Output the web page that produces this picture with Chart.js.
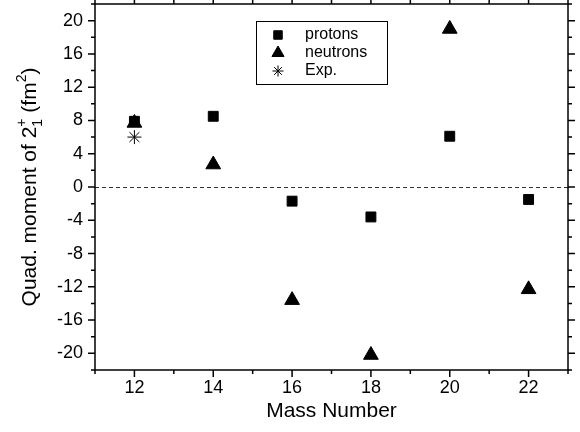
<!DOCTYPE html>
<html>
<head>
<meta charset="utf-8">
<script src="https://cdn.jsdelivr.net/npm/chart.js@4"></script>
<style>
html, body { margin: 0; padding: 0; background: #fff; }
#wrap { width: 580px; height: 432px; }
</style>
</head>
<body>
<div id="wrap"><canvas id="quad"></canvas></div>
<script>
// data
var massNumbers = [12, 14, 16, 18, 20, 22];
var protons = [7.9, 8.5, -1.7, -3.6, 6.1, -1.5];
var neutrons = [7.7, 2.7, -13.6, -20.2, 19.0, -12.3];
var expMass = [12];
var expValues = [6.0];

var legendItems = [
    {label: 'protons', style: 'rect', radius: 6},
    {label: 'neutrons', style: 'triangle', radius: 7},
    {label: 'Exp.', style: 'star', radius: 5.5}
];

var FONT = '"Liberation Sans", Arial, Helvetica, sans-serif';

const toPoints = (xs, ys) => {
    let pts = [];
    for (let i = 0; i < xs.length; i++) pts.push({x: xs[i], y: ys[i]});
    return pts;
};

// frame, outward ticks on all four sides, dashed zero line, y title, legend box
const decorations = {
    id: 'decorations',
    beforeDatasetsDraw(chart) {
        const ctx = chart.ctx, a = chart.chartArea, y = chart.scales.y;
        let y0 = Math.round(y.getPixelForValue(0)) + 0.5;
        ctx.save();
        ctx.strokeStyle = '#333';
        ctx.lineWidth = 1;
        ctx.setLineDash([4, 3]);
        ctx.beginPath();
        ctx.moveTo(a.left, y0);
        ctx.lineTo(a.right, y0);
        ctx.stroke();
        ctx.restore();
    },
    afterDraw(chart) {
        const ctx = chart.ctx, a = chart.chartArea;
        const xs = chart.scales.x, ys = chart.scales.y;
        ctx.save();
        ctx.strokeStyle = '#000';
        ctx.lineWidth = 1.5;
        ctx.strokeRect(a.left, a.top, a.right - a.left, a.bottom - a.top);

        ctx.beginPath();
        xs.ticks.forEach(t => {
            let px = xs.getPixelForValue(t.value);
            let len = (t.value % 2 == 0) ? 7 : 4;
            ctx.moveTo(px, a.bottom); ctx.lineTo(px, a.bottom + len);
            ctx.moveTo(px, a.top); ctx.lineTo(px, a.top - len);
        });
        ys.ticks.forEach(t => {
            let py = ys.getPixelForValue(t.value);
            let len = (t.value % 4 == 0) ? 7 : 4;
            ctx.moveTo(a.left, py); ctx.lineTo(a.left - len, py);
            ctx.moveTo(a.right, py); ctx.lineTo(a.right + len, py);
        });
        ctx.stroke();

        // y title with 2+1 (super/sub stacked) and fm^2
        ctx.fillStyle = '#000';
        ctx.translate(30, (a.top + a.bottom) / 2);
        ctx.rotate(-Math.PI / 2);
        ctx.textBaseline = 'middle';
        let big = '21px ' + FONT, small = '14px ' + FONT;
        let parts1 = 'Quad. moment of 2', parts2 = ' (fm', parts3 = ')';
        ctx.font = big;
        let w1 = ctx.measureText(parts1).width;
        let w2 = ctx.measureText(parts2).width;
        let w3 = ctx.measureText(parts3).width;
        ctx.font = small;
        let ws = Math.max(ctx.measureText('+').width, ctx.measureText('1').width);
        let wsq = ctx.measureText('2').width;
        let total = w1 + ws + w2 + wsq + w3;
        let x = -total / 2;
        ctx.font = big;
        ctx.fillText(parts1, x, 0); x += w1;
        ctx.font = small;
        ctx.fillText('+', x, -8);
        ctx.fillText('1', x, 8);
        x += ws;
        ctx.font = big;
        ctx.fillText(parts2, x, 0); x += w2;
        ctx.font = small;
        ctx.fillText('2', x, -8); x += wsq;
        ctx.font = big;
        ctx.fillText(parts3, x, 0);
        ctx.restore();

        // legend box
        ctx.save();
        ctx.strokeStyle = '#000';
        ctx.lineWidth = 1;
        ctx.strokeRect(256.5, 21.5, 131, 63);
        ctx.font = '16px ' + FONT;
        ctx.textBaseline = 'middle';
        legendItems.forEach((it, i) => {
            let ly = 35 + i * 18;
            ctx.fillStyle = '#000';
            ctx.strokeStyle = '#000';
            Chart.helpers.drawPoint(ctx, {
                pointStyle: it.style, radius: it.radius, rotation: 0, borderWidth: 1
            }, 278, ly);
            ctx.fillText(it.label, 305, ly);
        });
        ctx.restore();
    }
};

var ctx = document.getElementById('quad');
var chart = new Chart(ctx, {
    type: 'scatter',
    data: {
        datasets: [
            {
                label: 'protons',
                data: toPoints(massNumbers, protons),
                pointStyle: 'rect', pointRadius: 7,
                backgroundColor: '#000', borderColor: '#000', borderWidth: 1
            },
            {
                label: 'neutrons',
                data: toPoints(massNumbers, neutrons),
                pointStyle: 'triangle', pointRadius: 8.5,
                backgroundColor: '#000', borderColor: '#000', borderWidth: 1
            },
            {
                label: 'Exp.',
                data: toPoints(expMass, expValues),
                pointStyle: 'star', pointRadius: 7,
                backgroundColor: '#000', borderColor: '#000', borderWidth: 1
            }
        ]
    },
    options: {
        responsive: true,
        maintainAspectRatio: false,
        animation: false,
        layout: {autoPadding: false, padding: {top: 4, right: 12, left: 0, bottom: 0}},
        plugins: {
            legend: {display: false},
            tooltip: {enabled: false}
        },
        scales: {
            x: {
                type: 'linear',
                min: 11, max: 23,
                grid: {display: false, drawTicks: false},
                border: {display: false},
                ticks: {
                    stepSize: 1, autoSkip: false, maxRotation: 0, padding: 7,
                    color: '#000', font: {family: FONT, size: 18},
                    callback: (v) => (v % 2 == 0 ? v : '')
                },
                title: {
                    display: true, text: 'Mass Number', color: '#000',
                    font: {family: FONT, size: 21}, padding: {top: 0, bottom: 8}
                },
                afterFit: (s) => { s.height = 62; s.paddingLeft = 0; s.paddingRight = 0; }
            },
            y: {
                min: -22, max: 22,
                grid: {display: false, drawTicks: false},
                border: {display: false},
                ticks: {
                    stepSize: 2, autoSkip: false, padding: 12,
                    color: '#000', font: {family: FONT, size: 18},
                    callback: (v) => (v % 4 == 0 ? v : '')
                },
                afterFit: (s) => { s.width = 95; s.paddingTop = 0; s.paddingBottom = 0; }
            }
        }
    },
    plugins: [decorations]
});
</script>
</body>
</html>
